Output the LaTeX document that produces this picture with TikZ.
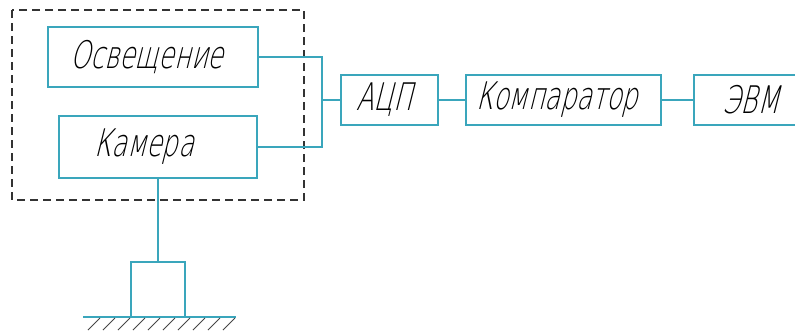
\documentclass[tikz,border=0pt]{standalone}
\usepackage{fontspec}
\newfontfamily\gost{DejaVu Sans ExtraLight}[FakeStretch=0.67,FakeSlant=0.25]
\definecolor{tealline}{RGB}{58,166,188}
\definecolor{hatchgray}{RGB}{70,70,70}
\begin{document}
\begin{tikzpicture}[x=1pt,y=-1pt,
  blk/.style={draw=tealline,line width=2pt,rectangle,inner sep=0pt,font=\gost\fontsize{38}{42}\selectfont},
  conn/.style={draw=tealline,line width=2pt},
  frame/.style={draw=black!80,line width=1.1pt,dash pattern=on 8pt off 5pt},
  hatch/.style={draw=hatchgray,line width=0.8pt}]
\useasboundingbox (0,0) rectangle (795,332);
\draw[frame] (12,10) rectangle (304,200);
\node[blk,minimum width=210pt,minimum height=60pt] (osv) at (153,57) {\kern-12pt\raisebox{4pt}{Освещение}};
\node[blk,minimum width=198pt,minimum height=62pt] (kam) at (158,147) {\kern-28pt\raisebox{2pt}{Камера}};
\node[blk,minimum width=97pt,minimum height=50pt] (adc) at (389.5,100) {\kern-10pt АЦП};
\node[blk,minimum width=195pt,minimum height=50pt] (komp) at (563.5,100) {\kern-13pt Компаратор};
\node[blk,minimum width=114pt,minimum height=50pt] (evm) at (751,100) {ЭВМ};
\node[blk,minimum width=54pt,minimum height=55pt] (stand) at (158,289.5) {};
\coordinate (jn) at (322,100);
\coordinate (gl) at (83,317);
\coordinate (gr) at (236,317);
\draw[conn] (osv.east) -| (jn) |- (kam.east);
\draw[conn] (jn) -- (adc.west);
\draw[conn] (adc.east) -- (komp.west);
\draw[conn] (komp.east) -- (evm.west);
\draw[conn] (kam.south) -- (stand.north);
\draw[conn] (gl) -- (gr);
\foreach \i in {0,...,9} {
  \draw[hatch] (88+15*\i,330) -- (100+15*\i,318);
}
\end{tikzpicture}
\end{document}
